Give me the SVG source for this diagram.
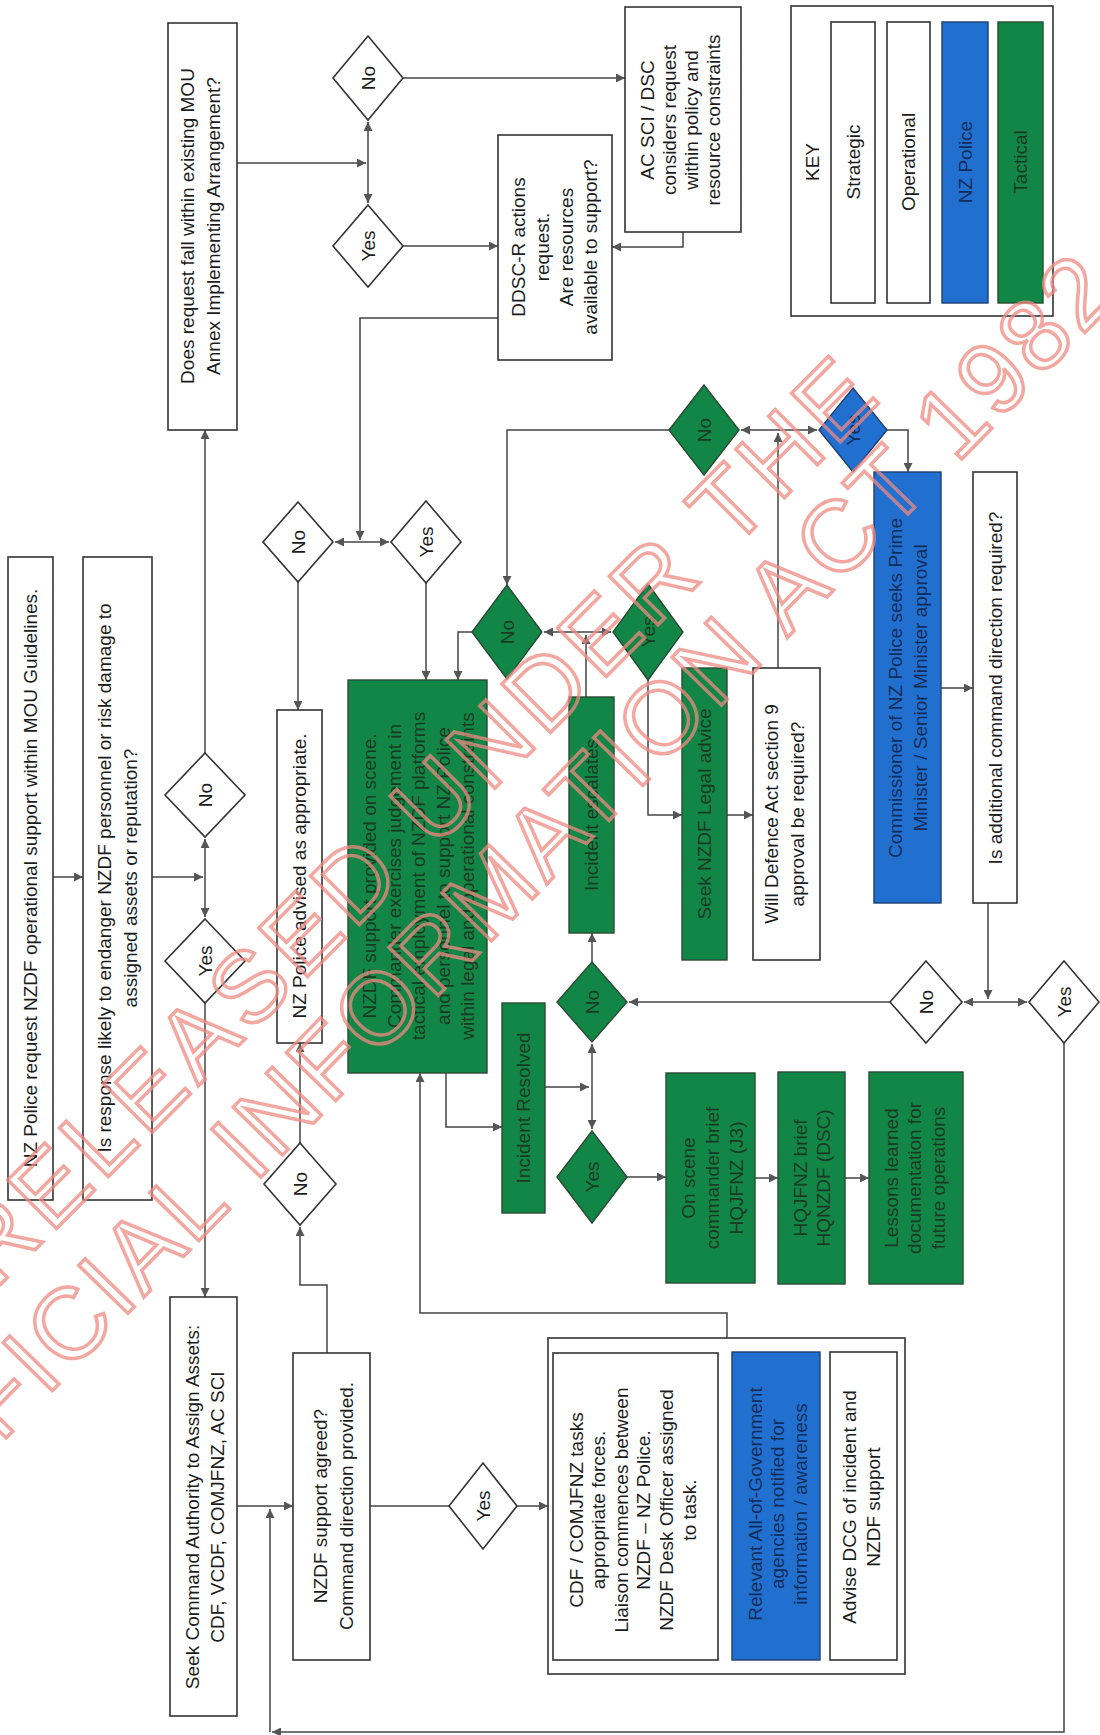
<svg xmlns="http://www.w3.org/2000/svg" width="1100" height="1735" viewBox="0 0 1100 1735">
<defs>
<marker id="ah" viewBox="0 0 10 10" refX="10" refY="5" markerWidth="12" markerHeight="9" markerUnits="userSpaceOnUse" orient="auto-start-reverse">
<path d="M0,0 L10,5 L0,10 z" fill="#555"/>
</marker>
<style>
.bw{fill:#fff;stroke:#333;stroke-width:1.6}
.bg{fill:#128646;stroke:#2a4a33;stroke-width:1.4}
.bb{fill:#2170d0;stroke:#1f3f70;stroke-width:1.4}
.t{font-family:"Liberation Sans",Arial,sans-serif;font-size:19px;fill:#1c1c1c;text-anchor:middle;dominant-baseline:central}
.tg{fill:#1b3a24}
.tb{fill:#132c5a}
.c path{fill:none;stroke:#444;stroke-width:1.5}
.a{marker-end:url(#ah)}
.wm{font-family:"Liberation Sans",Arial,sans-serif;font-size:100px;fill:none;stroke:#ee8a82;stroke-width:3.5;opacity:0.75}
</style>
</defs>
<rect width="1100" height="1735" fill="#fff"/>

<g class="c" id="connectors">
<path class="a" d="M53,877 H83"/>
<path class="a" d="M152,877 H203"/>
<path class="a" d="M205,877 V839"/>
<path class="a" d="M205,877 V917"/>
<path class="a" d="M205,753 V430"/>
<path class="a" d="M205,1003 V1297"/>
<path class="a" d="M237,163 H366"/>
<path class="a" d="M368,163 V122"/>
<path class="a" d="M368,163 V203"/>
<path class="a" d="M403,78 H625"/>
<path class="a" d="M403,246 H498"/>
<path class="a" d="M683,232 V247 H612"/>
<path class="a" d="M498,318 H360 V540"/>
<path class="a" d="M360,542 H335"/>
<path class="a" d="M360,542 H389"/>
<path class="a" d="M298,582 V710"/>
<path class="a" d="M426,583 V680"/>
<path class="a" d="M472,632 H458 V680"/>
<path class="a" d="M586,632 H544"/>
<path class="a" d="M586,632 H611"/>
<path class="a" d="M586,697 V635"/>
<path class="a" d="M669,430 H507 V585"/>
<path class="a" d="M648,680 V815 H682"/>
<path class="a" d="M727,815 H753"/>
<path class="a" d="M778,668 V433"/>
<path class="a" d="M778,430 H741"/>
<path class="a" d="M778,430 H817"/>
<path class="a" d="M887,430 H908 V472"/>
<path class="a" d="M941,688 H973"/>
<path class="a" d="M988,903 V999"/>
<path class="a" d="M988,1002 H964"/>
<path class="a" d="M988,1002 H1027"/>
<path class="a" d="M890,1002 H629"/>
<path class="a" d="M592,962 V933"/>
<path class="a" d="M592,1087 V1044"/>
<path class="a" d="M592,1087 V1129"/>
<path class="a" d="M545,1087 H589"/>
<path class="a" d="M446,1073 V1127 H502"/>
<path class="a" d="M627,1177 H666"/>
<path class="a" d="M755,1178 H778"/>
<path class="a" d="M845,1178 H869"/>
<path class="a" d="M1064,1043 V1732 H272"/>
<path class="a" d="M270,1732 V1509"/>
<path class="a" d="M237,1506 H293"/>
<path class="a" d="M327,1353 V1285 H300 V1227"/>
<path class="a" d="M300,1143 V1043"/>
<path d="M370,1506 H449"/>
<path class="a" d="M517,1506 H548"/>
<path class="a" d="M727,1338 V1313 H420 V1073"/>
</g>

<g id="n_request"><rect class="bw" x="8" y="557" width="45" height="643"/>
<text class="t" transform="translate(30.5,878) rotate(-90)">NZ Police request NZDF operational support within MOU Guidelines.</text></g>

<g id="n_endanger"><rect class="bw" x="83" y="557" width="69" height="643"/>
<text class="t" transform="translate(117,878) rotate(-90)"><tspan x="0" dy="-13">Is response  likely  to  endanger  NZDF  personnel  or  risk  damage  to</tspan><tspan x="0" dy="26">assigned  assets  or  reputation?</tspan></text></g>

<g id="n_does"><rect class="bw" x="168" y="23" width="69" height="407"/>
<text class="t" transform="translate(200,226) rotate(-90)"><tspan x="0" dy="-13">Does request fall within existing MOU</tspan><tspan x="0" dy="26">Annex Implementing Arrangement?</tspan></text></g>

<g id="d_left_no"><polygon class="bw" points="205,753 245,795 205,837 165,795"/>
<text class="t" transform="translate(205,795) rotate(-90)">No</text></g>
<g id="d_left_yes"><polygon class="bw" points="205,919 245,961 205,1003 165,961"/>
<text class="t" transform="translate(205,961) rotate(-90)">Yes</text></g>
<g id="d_top_no"><polygon class="bw" points="368,36 403,78 368,120 333,78"/>
<text class="t" transform="translate(368,78) rotate(-90)">No</text></g>
<g id="d_top_yes"><polygon class="bw" points="368,205 403,246 368,287 333,246"/>
<text class="t" transform="translate(368,246) rotate(-90)">Yes</text></g>

<g id="n_ddscr"><rect class="bw" x="498" y="135" width="114" height="225"/>
<text class="t" transform="translate(554,247) rotate(-90)"><tspan x="0" dy="-36">DDSC-R actions</tspan><tspan x="0" dy="24">request.</tspan><tspan x="0" dy="24">Are resources</tspan><tspan x="0" dy="24">available to support?</tspan></text></g>

<g id="n_acsci"><rect class="bw" x="625" y="7" width="116" height="225"/>
<text class="t" transform="translate(680,120) rotate(-90)"><tspan x="0" dy="-33">AC SCI / DSC</tspan><tspan x="0" dy="22">considers request</tspan><tspan x="0" dy="22">within policy and</tspan><tspan x="0" dy="22">resource  constraints</tspan></text></g>

<g id="d_mid_no"><polygon class="bw" points="298,502 333,542 298,582 263,542"/>
<text class="t" transform="translate(298,542) rotate(-90)">No</text></g>
<g id="d_mid_yes"><polygon class="bw" points="426,501 461,542 426,583 391,542"/>
<text class="t" transform="translate(426,542) rotate(-90)">Yes</text></g>

<g id="n_advised"><rect class="bw" x="277" y="710" width="45" height="333"/>
<text class="t" transform="translate(299.5,876) rotate(-90)">NZ Police advised as appropriate.</text></g>

<g id="n_support"><rect class="bg" x="348" y="680" width="139" height="393"/>
<text class="t tg" transform="translate(418,876) rotate(-90)"><tspan x="0" dy="-49">NZDF support provided on scene.</tspan><tspan x="0" dy="24.5">Commander exercises judgement in</tspan><tspan x="0" dy="24.5">tactical employment of NZDF platforms</tspan><tspan x="0" dy="24.5">and personnel to support NZ Police</tspan><tspan x="0" dy="24.5">within legal and operational constraints</tspan></text></g>

<g id="d_g_no1"><polygon class="bg" points="507,585 542,632 507,679 472,632"/>
<text class="t tg" transform="translate(507,632) rotate(-90)">No</text></g>
<g id="d_g_yes1"><polygon class="bg" points="648,584 683,632 648,680 613,632"/>
<text class="t tg" transform="translate(648,632) rotate(-90)">Yes</text></g>

<g id="n_escalates"><rect class="bg" x="569" y="697" width="45" height="236"/>
<text class="t tg" transform="translate(591.5,815) rotate(-90)">Incident  escalates</text></g>

<g id="n_legal"><rect class="bg" x="682" y="668" width="45" height="292"/>
<text class="t tg" transform="translate(704.5,814) rotate(-90)">Seek  NZDF Legal  advice</text></g>

<g id="n_defence"><rect class="bw" x="753" y="668" width="67" height="292"/>
<text class="t" transform="translate(784,814) rotate(-90)"><tspan x="0" dy="-13">Will Defence Act section 9</tspan><tspan x="0" dy="26">approval be required?</tspan></text></g>

<g id="d_g_no2"><polygon class="bg" points="704,385 739,430 704,475 669,430"/>
<text class="t tg" transform="translate(704,430) rotate(-90)">No</text></g>
<g id="d_b_yes"><polygon class="bb" points="853,388 887,430 853,472 819,430"/>
<text class="t tb" transform="translate(853,430) rotate(-90)">Yes</text></g>

<g id="n_commissioner"><rect class="bb" x="874" y="472" width="67" height="431"/>
<text class="t tb" transform="translate(907.5,688) rotate(-90)"><tspan x="0" dy="-12.5">Commissioner of NZ Police seeks Prime</tspan><tspan x="0" dy="25">Minister / Senior Minister approval</tspan></text></g>

<g id="n_additional"><rect class="bw" x="973" y="472" width="44" height="431"/>
<text class="t" transform="translate(995,688) rotate(-90)">Is additional command direction required?</text></g>

<g id="d_br_no"><polygon class="bw" points="926,961 962,1002 926,1043 890,1002"/>
<text class="t" transform="translate(926,1002) rotate(-90)">No</text></g>
<g id="d_br_yes"><polygon class="bw" points="1064,961 1099,1002 1064,1043 1029,1002"/>
<text class="t" transform="translate(1064,1002) rotate(-90)">Yes</text></g>

<g id="d_g_no3"><polygon class="bg" points="592,962 627,1002 592,1042 557,1002"/>
<text class="t tg" transform="translate(592,1002) rotate(-90)">No</text></g>
<g id="d_g_yes2"><polygon class="bg" points="592,1131 627,1177 592,1223 557,1177"/>
<text class="t tg" transform="translate(592,1177) rotate(-90)">Yes</text></g>

<g id="n_resolved"><rect class="bg" x="502" y="1003" width="43" height="210"/>
<text class="t tg" transform="translate(523.5,1108) rotate(-90)">Incident  Resolved</text></g>

<g id="n_brief1"><rect class="bg" x="666" y="1073" width="89" height="210"/>
<text class="t tg" transform="translate(712,1178) rotate(-90)"><tspan x="0" dy="-24">On scene</tspan><tspan x="0" dy="24">commander brief</tspan><tspan x="0" dy="24">HQJFNZ (J3)</tspan></text></g>

<g id="n_brief2"><rect class="bg" x="778" y="1072" width="67" height="212"/>
<text class="t tg" transform="translate(811.5,1178) rotate(-90)"><tspan x="0" dy="-11.5">HQJFNZ brief</tspan><tspan x="0" dy="23">HQNZDF (DSC)</tspan></text></g>

<g id="n_lessons"><rect class="bg" x="869" y="1072" width="94" height="212"/>
<text class="t tg" transform="translate(914,1178) rotate(-90)"><tspan x="0" dy="-23.5">Lessons  learned</tspan><tspan x="0" dy="23.5">documentation  for</tspan><tspan x="0" dy="23.5">future operations</tspan></text></g>

<g id="n_seek"><rect class="bw" x="170" y="1297" width="67" height="419"/>
<text class="t" transform="translate(204,1507) rotate(-90)"><tspan x="0" dy="-12.5">Seek Command Authority to Assign Assets:</tspan><tspan x="0" dy="25">CDF, VCDF, COMJFNZ, AC SCI</tspan></text></g>

<g id="n_agreed"><rect class="bw" x="293" y="1353" width="77" height="307"/>
<text class="t" transform="translate(333,1506) rotate(-90)"><tspan x="0" dy="-13">NZDF support agreed?</tspan><tspan x="0" dy="26">Command  direction  provided.</tspan></text></g>

<g id="d_left_no2"><polygon class="bw" points="300,1143 336,1184 300,1225 264,1184"/>
<text class="t" transform="translate(300,1184) rotate(-90)">No</text></g>
<g id="d_bot_yes"><polygon class="bw" points="483,1463 517,1506 483,1549 449,1506"/>
<text class="t" transform="translate(483,1506) rotate(-90)">Yes</text></g>

<g id="n_actions">
<rect class="bw" x="548" y="1338" width="357" height="336"/>
<g id="n_cdf"><rect class="bw" x="553" y="1353" width="165" height="307"/>
<text class="t" transform="translate(632,1510) rotate(-90)"><tspan x="0" dy="-56.5">CDF / COMJFNZ tasks</tspan><tspan x="0" dy="22.6">appropriate forces.</tspan><tspan x="0" dy="22.6">Liaison  commences  between</tspan><tspan x="0" dy="22.6">NZDF – NZ Police.</tspan><tspan x="0" dy="22.6">NZDF Desk Officer assigned</tspan><tspan x="0" dy="22.6">to task.</tspan></text></g>
<g id="n_aog"><rect class="bb" x="732" y="1352" width="88" height="308"/>
<text class="t tb" transform="translate(777,1504) rotate(-90)"><tspan x="0" dy="-22.5">Relevant  All-of-Government</tspan><tspan x="0" dy="22.5">agencies  notified  for</tspan><tspan x="0" dy="22.5">information / awareness</tspan></text></g>
<g id="n_dcg"><rect class="bw" x="830" y="1352" width="67" height="308"/>
<text class="t" transform="translate(861,1507) rotate(-90)"><tspan x="0" dy="-12">Advise DCG of incident  and</tspan><tspan x="0" dy="24">NZDF support</tspan></text></g>
</g>

<g id="key">
<rect class="bw" x="791" y="6" width="262" height="310"/>
<text class="t" transform="translate(812,162) rotate(-90)">KEY</text>
<g id="key_strategic"><rect class="bw" x="831" y="22" width="44" height="281"/>
<text class="t" transform="translate(853,162) rotate(-90)">Strategic</text></g>
<g id="key_operational"><rect class="bw" x="887" y="22" width="43" height="281"/>
<text class="t" transform="translate(908.5,162) rotate(-90)">Operational</text></g>
<g id="key_police"><rect class="bb" x="942" y="22" width="46" height="281"/>
<text class="t tb" transform="translate(965,162) rotate(-90)">NZ Police</text></g>
<g id="key_tactical"><rect class="bg" x="998" y="22" width="45" height="281"/>
<text class="t tg" transform="translate(1020.5,162) rotate(-90)">Tactical</text></g>
</g>

<g id="watermark">
<text class="wm" transform="translate(-5,1290) rotate(-45.1)" textLength="1256" lengthAdjust="spacing">RELEASED UNDER THE</text>
<text class="wm" transform="translate(-102,1549) rotate(-45.7)" textLength="1750" lengthAdjust="spacing">OFFICIAL INFORMATION ACT 1982</text>
</g>
</svg>
